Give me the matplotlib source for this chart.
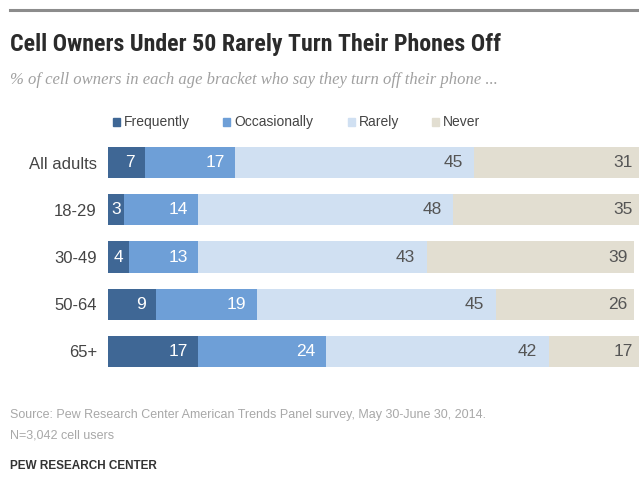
import matplotlib
matplotlib.use("Agg")
import matplotlib.pyplot as plt
from matplotlib import font_manager
from matplotlib.patches import Rectangle

# Data
groups = ["All adults", "18-29", "30-49", "50-64", "65+"]
series = ["Frequently", "Occasionally", "Rarely", "Never"]
frequently = [7, 3, 4, 9, 17]
occasionally = [17, 14, 13, 19, 24]
rarely = [45, 48, 43, 45, 42]
never = [31, 35, 39, 26, 17]
values = [frequently, occasionally, rarely, never]

colors = ["#3f6795", "#6e9fd7", "#d0e0f2", "#e2ded1"]
label_colors = ["white", "white", "#555555", "#555555"]
label_pad = [1.9, 1.9, 2.2, 1.2]  # in % units from right end of segment


def pick_font(names, fallback="Liberation Sans"):
    for n in names:
        try:
            font_manager.findfont(font_manager.FontProperties(family=n), fallback_to_default=False)
            return n
        except Exception:
            continue
    return fallback


narrow = pick_font(["Liberation Sans Narrow", "Roboto Condensed", "Open Sans Condensed"])
sans = "Liberation Sans"
serif = pick_font(["Liberation Serif", "DejaVu Serif"])

W, H = 639, 493
fig = plt.figure(figsize=(W / 100, H / 100), dpi=100)

# top rule
fig.add_artist(plt.Line2D([10 / W, 1.0], [1 - 10 / H, 1 - 10 / H], color="#8c8c8c", lw=2.2))

fig.text(10 / W, 1 - 44 / H, "Cell Owners Under 50 Rarely Turn Their Phones Off",
         fontsize=15.5 if narrow == "Liberation Sans" else 17.2, fontweight="bold",
         family=narrow, color="#2b2b2b", va="center", ha="left")
fig.text(10 / W, 1 - 80 / H, "% of cell owners in each age bracket who say they turn off their phone ...",
         fontsize=12, style="italic", family=serif, color="#a0a0a0", va="center", ha="left")

# legend
leg_x = [113, 223, 348, 432]
for x, name, c in zip(leg_x, series, colors):
    fig.add_artist(Rectangle((x / W, 1 - 126 / H), 7 / W, 8 / H, color=c,
                             transform=fig.transFigure))
    fig.text((x + 11) / W, 1 - 122 / H, name, fontsize=10, family=sans,
             color="#444444", va="center", ha="left")

ax = fig.add_axes([108 / W, 1 - 367 / H, 1 - 108 / W, 220 / H])
ypos = list(range(len(groups)))
left = [0] * len(groups)
for vals, c, tc, pad in zip(values, colors, label_colors, label_pad):
    ax.barh(ypos, vals, left=left, height=0.66, color=c, edgecolor="none")
    for y, v, l in zip(ypos, vals, left):
        if v < 5:
            ax.text(l + v / 2, y, str(v), ha="center", va="center", color=tc,
                    fontsize=12.5, family=sans)
        else:
            ax.text(l + v - pad, y, str(v), ha="right", va="center", color=tc,
                    fontsize=12.5, family=sans)
    left = [a + b for a, b in zip(left, vals)]

ax.set_xlim(0, 100)
ax.set_ylim(4.33, -0.33)
ax.set_yticks(ypos)
ax.set_yticklabels(groups, fontsize=12, family=sans, color="#444444")
ax.tick_params(axis="y", length=0, pad=8)
ax.set_xticks([])
for s in ax.spines.values():
    s.set_visible(False)

fig.text(10 / W, 1 - 415 / H,
         "Source: Pew Research Center American Trends Panel survey, May 30-June 30, 2014.",
         fontsize=9, family=sans, color="#a8a8a8", va="center", ha="left")
fig.text(10 / W, 1 - 435 / H, "N=3,042 cell users",
         fontsize=9, family=sans, color="#a8a8a8", va="center", ha="left")
fig.text(10 / W, 1 - 466 / H, "PEW RESEARCH CENTER",
         fontsize=8.5, fontweight="bold", family=sans, color="#333333", va="center", ha="left")

fig.savefig("out.png", dpi=100)
